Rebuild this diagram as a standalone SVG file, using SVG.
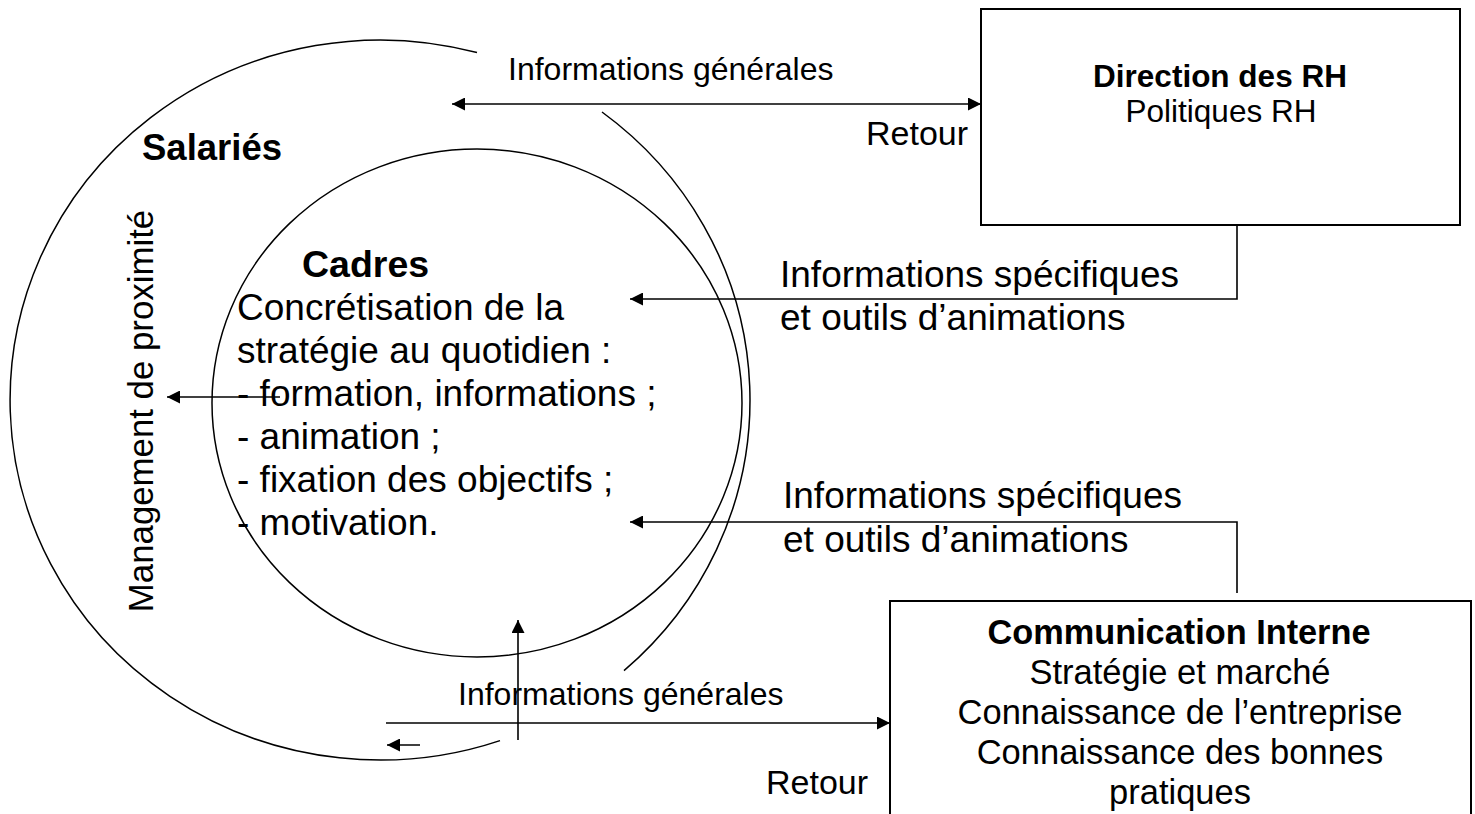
<svg xmlns="http://www.w3.org/2000/svg" width="1475" height="814" viewBox="0 0 1475 814">
<defs>
<marker id="ah" viewBox="0 0 10 10" refX="10" refY="5" markerWidth="15" markerHeight="13" markerUnits="userSpaceOnUse" orient="auto-start-reverse">
<path d="M0,0 L10,5 L0,10 z" fill="#000"/>
</marker>
<style>
text{font-family:"Liberation Sans",Arial,sans-serif;fill:#000}
.b{font-weight:bold}
.ln{fill:none;stroke:#000;stroke-width:1.6}
.arc{fill:none;stroke:#000;stroke-width:1.5}
.box{fill:#fff;stroke:#000;stroke-width:2}
.body{font-size:37px}
.sm{font-size:32px}
</style>
</defs>
<rect width="1475" height="814" fill="#fff"/>

<g id="salaries">
<path class="arc" d="M477,52.6 A370,360 0 1,0 500,740.6"/>
<path class="arc" d="M602,112 A370,360 0 0,1 624,670.6"/>
<text class="b" x="142" y="160" font-size="36.5px">Salariés</text>
<text x="0" y="0" font-size="34.8px" text-anchor="middle" transform="translate(153,411) rotate(-90)">Management de proximité</text>
</g>

<g id="cadres">
<ellipse class="arc" cx="477" cy="403" rx="265" ry="254"/>
<text class="b" x="302" y="277" font-size="37.5px">Cadres</text>
<text class="body" x="237" y="320">Concrétisation de la</text>
<text class="body" x="237" y="363">stratégie au quotidien :</text>
<text class="body" x="237" y="406">- formation, informations ;</text>
<text class="body" x="237" y="449">- animation ;</text>
<text class="body" x="237" y="492">- fixation des objectifs ;</text>
<text class="body" x="237" y="535">- motivation.</text>
</g>

<g id="drh">
<rect class="box" x="981" y="9" width="479" height="216"/>
<text class="b" x="1220" y="87" font-size="31.5px" text-anchor="middle">Direction des RH</text>
<text x="1221" y="122" font-size="31.5px" text-anchor="middle">Politiques RH</text>
</g>

<g id="ci">
<rect class="box" x="890" y="601" width="581" height="240"/>
<text class="b" x="1179" y="644" font-size="34.3px" text-anchor="middle">Communication Interne</text>
<text x="1180" y="684" font-size="34.5px" text-anchor="middle">Stratégie et marché</text>
<text x="1180" y="724" font-size="34.5px" text-anchor="middle">Connaissance de l’entreprise</text>
<text x="1180" y="764" font-size="34.5px" text-anchor="middle">Connaissance des bonnes</text>
<text x="1180" y="804" font-size="34.5px" text-anchor="middle">pratiques</text>
</g>

<g id="connectors">
<line class="ln" x1="452" y1="104" x2="981" y2="104" marker-start="url(#ah)" marker-end="url(#ah)"/>
<polyline class="ln" points="1237,225 1237,299 630,299" marker-end="url(#ah)"/>
<polyline class="ln" points="1237,593 1237,522 630,522" marker-end="url(#ah)"/>
<line class="ln" x1="280" y1="397" x2="167" y2="397" marker-end="url(#ah)"/>
<line class="ln" x1="518" y1="740" x2="518" y2="620" marker-end="url(#ah)"/>
<line class="ln" x1="386" y1="723" x2="890" y2="723" marker-end="url(#ah)"/>
<line class="ln" x1="420" y1="745" x2="387" y2="745" marker-end="url(#ah)"/>
</g>

<g id="labels">
<text class="sm" x="508" y="80">Informations générales</text>
<text x="866" y="145" font-size="34px">Retour</text>
<text class="body" x="780" y="287">Informations spécifiques</text>
<text class="body" x="780" y="330">et outils d’animations</text>
<text class="body" x="783" y="508">Informations spécifiques</text>
<text class="body" x="783" y="552">et outils d’animations</text>
<text class="sm" x="458" y="705">Informations générales</text>
<text x="766" y="794" font-size="34px">Retour</text>
</g>
</svg>
